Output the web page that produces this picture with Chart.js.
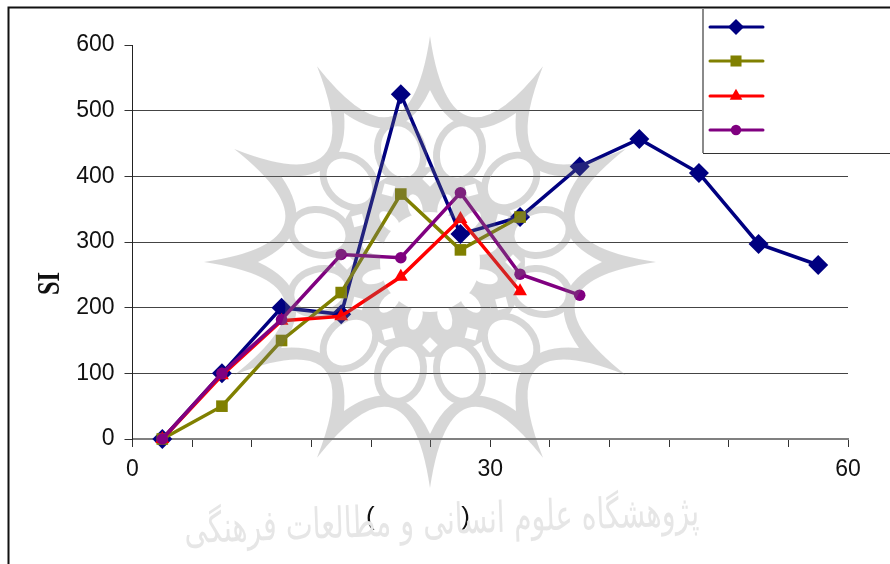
<!DOCTYPE html>
<html>
<head>
<meta charset="utf-8">
<style>
  html, body { margin: 0; padding: 0; background: #fff; }
  canvas { display: block; }
</style>
<script src="https://cdn.jsdelivr.net/npm/chart.js@4"></script>
</head>
<body>
<canvas id="siChart" width="890" height="564"></canvas>
<script>
const xValues = [2.5, 7.5, 12.5, 17.5, 22.5, 27.5, 32.5, 37.5, 42.5, 47.5, 52.5, 57.5];
const series1 = [0, 100, 200, 190, 525, 312, 338, 415, 457, 405, 297, 265];
const series2 = [0, 50, 150, 223, 373, 288, 338];
const series3 = [0, 97, 180, 187, 247, 335, 225];
const series4 = [0, 100, 182, 281, 276, 375, 251, 219];
const seriesNames = ['Series 1', 'Series 2', 'Series 3', 'Series 4'];
const seriesColors = ['#000080', '#808000', '#ff0000', '#800080'];
const seriesPoints = ['rectRot', 'rect', 'triangle', 'circle'];
const seriesRadius = [10, 8.2, 8, 5.8];
const keyRadius = [8, 7.8, 7.3, 5.2];
const xLabelled = [0, 30, 60];
const watermarkText = 'پژوهشگاه علوم انسانی و مطالعات فرهنگی';

function toPoints(values) {
    return values.map((v, i) => ({ x: xValues[i], y: v }));
}

// outer/inner star outline, 12 tips joined by concave curves
function starPath(g, tipR, ctrlR) {
    g.beginPath();
    for (let k = 0; k < 12; k++) {
        const a = k * Math.PI / 6;
        const b = a + Math.PI / 12;
        const c = a + Math.PI / 6;
        if (k === 0) g.moveTo(tipR * Math.cos(a), tipR * Math.sin(a));
        g.quadraticCurveTo(ctrlR * Math.cos(b), ctrlR * Math.sin(b), tipR * Math.cos(c), tipR * Math.sin(c));
    }
    g.closePath();
}

function buildRosette() {
    const off = document.createElement('canvas');
    off.width = 480;
    off.height = 480;
    const g = off.getContext('2d');
    g.translate(240, 240);
    g.fillStyle = '#777777';

    starPath(g, 226, 83);
    g.fill();

    g.globalCompositeOperation = 'destination-out';
    starPath(g, 172, 113);
    g.fill();

    g.globalCompositeOperation = 'source-over';
    g.beginPath();
    g.arc(0, 0, 95, 0, Math.PI * 2);
    g.fill();

    for (let k = 0; k < 12; k++) {
        const a = Math.PI / 12 + k * Math.PI / 6;
        g.beginPath();
        g.ellipse(114 * Math.cos(a), 114 * Math.sin(a), 33, 26, a, 0, Math.PI * 2);
        g.fill();
    }

    g.globalCompositeOperation = 'destination-out';
    for (let k = 0; k < 12; k++) {
        const a = Math.PI / 12 + k * Math.PI / 6;
        g.beginPath();
        g.ellipse(114 * Math.cos(a), 114 * Math.sin(a), 26, 19, a, 0, Math.PI * 2);
        g.fill();

        // small diamonds between the lobes
        const d = k * Math.PI / 6;
        g.save();
        g.translate(83 * Math.cos(d), 83 * Math.sin(d));
        g.rotate(d + Math.PI / 4);
        g.fillRect(-5.5, -5.5, 11, 11);
        g.restore();

        // petals round the white centre
        g.beginPath();
        g.ellipse(57 * Math.cos(a), 57 * Math.sin(a), 13, 7, a, 0, Math.PI * 2);
        g.fill();
    }
    g.beginPath();
    g.arc(0, 0, 50, 0, Math.PI * 2);
    g.fill();
    return off;
}

const rosette = buildRosette();

const framePlugin = {
    id: 'frame',
    beforeDraw(chart) {
        const ctx = chart.ctx;
        ctx.save();
        ctx.fillStyle = '#ffffff';
        ctx.fillRect(0, 0, chart.width, chart.height);
        ctx.strokeStyle = '#111111';
        ctx.lineWidth = 2;
        ctx.beginPath();
        ctx.moveTo(8.5, 564);
        ctx.lineTo(8.5, 7.5);
        ctx.lineTo(890, 7.5);
        ctx.stroke();
        ctx.restore();
    }
};

const watermarkPlugin = {
    id: 'watermark',
    afterDatasetsDraw(chart) {
        const ctx = chart.ctx;
        ctx.save();
        ctx.globalAlpha = 0.286;
        ctx.drawImage(rosette, 430 - 240, 262 - 240);
        ctx.globalAlpha = 1;

        ctx.translate(442, 534);
        ctx.rotate(-0.035);
        ctx.font = '34px "DejaVu Sans"';
        ctx.direction = 'rtl';
        ctx.textAlign = 'center';
        const w = ctx.measureText(watermarkText).width;
        ctx.scale(515 / w, 1.25);
        ctx.fillStyle = '#e6e6e6';
        ctx.fillText(watermarkText, 0, 0);
        ctx.restore();
    }
};

// the picture's SI label is squeezed along its length, a scale title can't do that
const siLabelPlugin = {
    id: 'siLabel',
    afterDraw(chart) {
        const ctx = chart.ctx;
        ctx.save();
        ctx.translate(59, 295);
        ctx.rotate(-Math.PI / 2);
        ctx.font = 'bold 32px "Liberation Serif"';
        ctx.fillStyle = '#111111';
        ctx.scale(23 / ctx.measureText('SI').width, 1);
        ctx.fillText('SI', 0, 0);
        ctx.restore();
    }
};

// the key is line + marker with no text, so it is drawn by hand
const keyPlugin = {
    id: 'keyBox',
    afterDraw(chart) {
        const ctx = chart.ctx;
        ctx.save();
        ctx.fillStyle = '#ffffff';
        ctx.fillRect(703, 9, 187, 144);
        ctx.strokeStyle = '#8a8a8a';
        ctx.lineWidth = 2;
        ctx.beginPath();
        ctx.moveTo(703, 8);
        ctx.lineTo(703, 153);
        ctx.stroke();
        ctx.strokeStyle = '#333333';
        ctx.lineWidth = 1;
        ctx.beginPath();
        ctx.moveTo(703, 153.5);
        ctx.lineTo(890, 153.5);
        ctx.stroke();

        const rows = [27, 61, 96, 130];
        seriesNames.forEach((name, i) => {
            ctx.strokeStyle = seriesColors[i];
            ctx.fillStyle = seriesColors[i];
            ctx.lineWidth = 3;
            ctx.lineCap = 'round';
            ctx.beginPath();
            ctx.moveTo(710, rows[i]);
            ctx.lineTo(763, rows[i]);
            ctx.stroke();
            Chart.helpers.drawPoint(ctx, {
                pointStyle: seriesPoints[i],
                radius: keyRadius[i],
                borderWidth: 0
            }, 736, rows[i]);
        });
        ctx.restore();
    }
};

const ctx = document.getElementById('siChart').getContext('2d');

new Chart(ctx, {
    type: 'line',
    data: {
        datasets: [series1, series2, series3, series4].map((values, i) => ({
            label: seriesNames[i],
            data: toPoints(values),
            borderColor: seriesColors[i],
            backgroundColor: seriesColors[i],
            borderWidth: 3.5,
            tension: 0,
            pointStyle: seriesPoints[i],
            pointRadius: seriesRadius[i],
            pointHoverRadius: seriesRadius[i],
            pointBorderWidth: 0,
            pointBackgroundColor: seriesColors[i],
            clip: false,
            order: 4 - i
        }))
    },
    options: {
        responsive: false,
        animation: false,
        layout: { padding: { left: 8, top: 45, right: 42, bottom: 0 } },
        plugins: {
            legend: { display: false },
            tooltip: { enabled: false }
        },
        scales: {
            x: {
                type: 'linear',
                min: 0,
                max: 60,
                afterFit: scale => { scale.height = 125; },
                border: { color: '#808080', width: 2 },
                grid: { drawOnChartArea: false, tickColor: '#333333', tickLength: 8 },
                ticks: {
                    stepSize: 5,
                    autoSkip: false,
                    maxRotation: 0,
                    color: '#111111',
                    padding: 9,
                    font: { family: '"Liberation Sans"', size: 23 },
                    callback: value => (xLabelled.includes(value) ? String(value) : '')
                },
                title: {
                    display: true,
                    text: '(' + '\u00a0'.repeat(12) + ')' + '\u00a0'.repeat(20),
                    color: '#111111',
                    font: { family: '"Liberation Sans"', size: 26 },
                    padding: { top: 0, bottom: 31 }
                }
            },
            y: {
                min: 0,
                max: 600,
                afterFit: scale => { scale.width = 124.5; },
                border: { color: '#222222', width: 1 },
                grid: {
                    color: c => (c.tick && (c.tick.value === 600 || c.tick.value === 0) ? 'rgba(0,0,0,0)' : '#444444'),
                    tickColor: '#333333',
                    tickLength: 8
                },
                ticks: {
                    stepSize: 100,
                    color: '#111111',
                    padding: 10,
                    font: { family: '"Liberation Sans"', size: 23 }
                }
            }
        }
    },
    plugins: [framePlugin, watermarkPlugin, siLabelPlugin, keyPlugin]
});
</script>
</body>
</html>
